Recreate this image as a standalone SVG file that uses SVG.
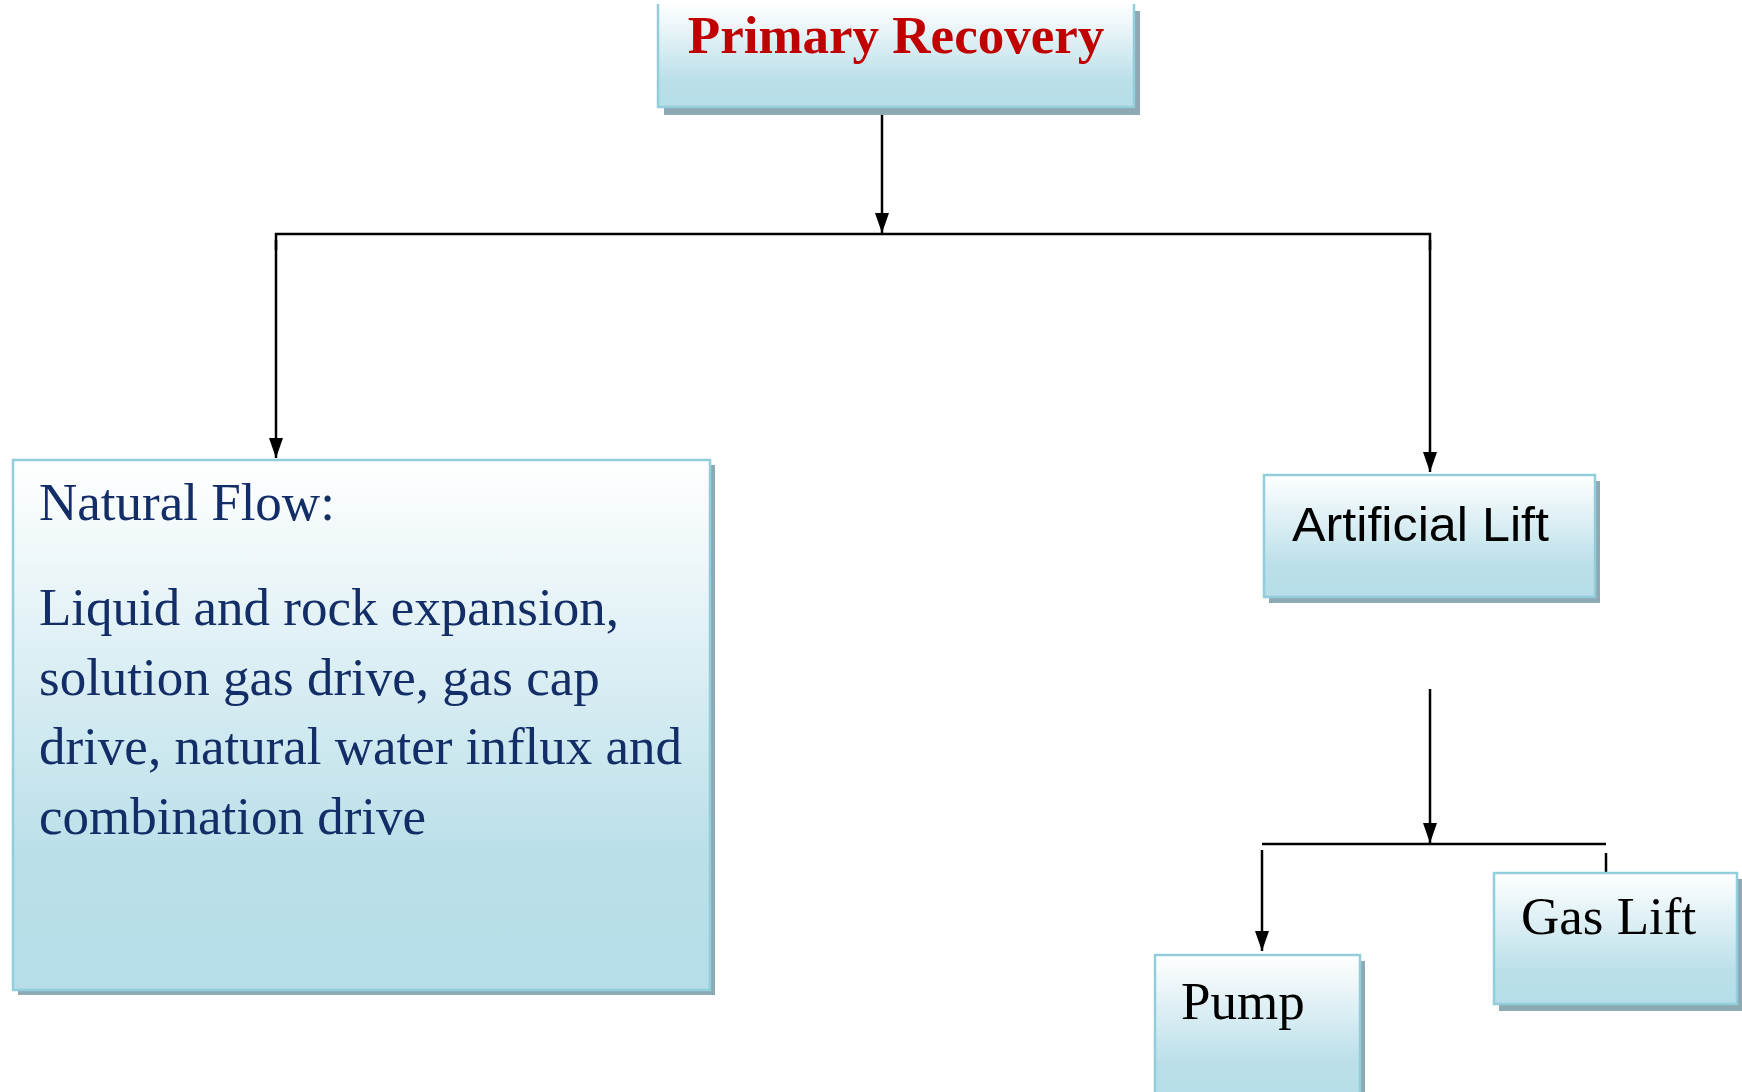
<svg xmlns="http://www.w3.org/2000/svg" width="1742" height="1092" viewBox="0 0 1742 1092">
<defs>
<linearGradient id="boxGrad" x1="0" y1="0" x2="0" y2="1">
<stop offset="0" stop-color="#FFFFFF"/>
<stop offset="0.75" stop-color="#BADFE9"/>
<stop offset="1" stop-color="#B6DDE8"/>
</linearGradient>
<marker id="arrow" markerUnits="userSpaceOnUse" markerWidth="20" markerHeight="14" refX="20" refY="7" orient="auto" viewBox="0 0 20 14">
<path d="M0,0 L20,7 L0,14 Z" fill="#000"/>
</marker>
</defs>
<style>
.shadow{fill:#8DA9B3;}
.box{fill:url(#boxGrad);stroke:#92CDDC;stroke-width:2.5;}
.edge{fill:none;stroke:#000;stroke-width:2.5;}
.serif{font-family:"Liberation Serif","Times New Roman",serif;font-size:53px;}
.sans{font-family:"Liberation Sans",Arial,sans-serif;font-size:48px;fill:#000;}
.navy{fill:#132D66;}
</style>
<rect width="1742" height="1092" fill="#FFFFFF"/>

<g id="connectors">
<line class="edge" x1="882" y1="107" x2="882" y2="233" marker-end="url(#arrow)"/>
<polyline class="edge" points="276,250 276,234 1430,234 1430,250"/>
<line class="edge" x1="276" y1="240" x2="276" y2="458" marker-end="url(#arrow)"/>
<line class="edge" x1="1430" y1="240" x2="1430" y2="472" marker-end="url(#arrow)"/>
<line class="edge" x1="1430" y1="689" x2="1430" y2="843" marker-end="url(#arrow)"/>
<line class="edge" x1="1262" y1="844" x2="1606" y2="844"/>
<line class="edge" x1="1262" y1="850" x2="1262" y2="951" marker-end="url(#arrow)"/>
<line class="edge" x1="1606" y1="853" x2="1606" y2="873"/>
</g>

<g id="primary-recovery">
<rect class="shadow" x="664" y="11" width="476" height="104"/>
<rect x="658" y="4" width="476" height="103" fill="url(#boxGrad)"/>
<path d="M658,4 V107 H1134 V4" fill="none" stroke="#92CDDC" stroke-width="2.5"/>
<text x="896" y="53" text-anchor="middle" font-family="Liberation Serif, 'Times New Roman', serif" font-size="53" font-weight="bold" fill="#C00000">Primary Recovery</text>
</g>

<g id="natural-flow">
<rect class="shadow" x="18" y="465" width="697" height="530"/>
<rect class="box" x="13" y="460" width="697" height="530"/>
<text class="serif navy" x="39" y="520">Natural Flow:</text>
<text class="serif navy" x="39" y="625">Liquid and rock expansion,</text>
<text class="serif navy" x="39" y="694.5">solution gas drive, gas cap</text>
<text class="serif navy" x="39" y="764">drive, natural water influx and</text>
<text class="serif navy" x="39" y="833.5">combination drive</text>
</g>

<g id="artificial-lift">
<rect class="shadow" x="1269" y="481" width="331" height="122"/>
<rect class="box" x="1264" y="475" width="331" height="122"/>
<text class="sans" x="1292" y="541" textLength="257" lengthAdjust="spacingAndGlyphs">Artificial Lift</text>
</g>

<g id="pump">
<rect class="shadow" x="1160" y="961" width="205" height="140"/>
<rect class="box" x="1155" y="955" width="205" height="145"/>
<text class="serif" x="1181" y="1019" font-size="52" fill="#000">Pump</text>
</g>

<g id="gas-lift">
<rect class="shadow" x="1499" y="879" width="243" height="132"/>
<rect class="box" x="1494" y="873" width="243" height="131"/>
<text class="serif" x="1521" y="934" font-size="52" fill="#000">Gas Lift</text>
</g>
</svg>
